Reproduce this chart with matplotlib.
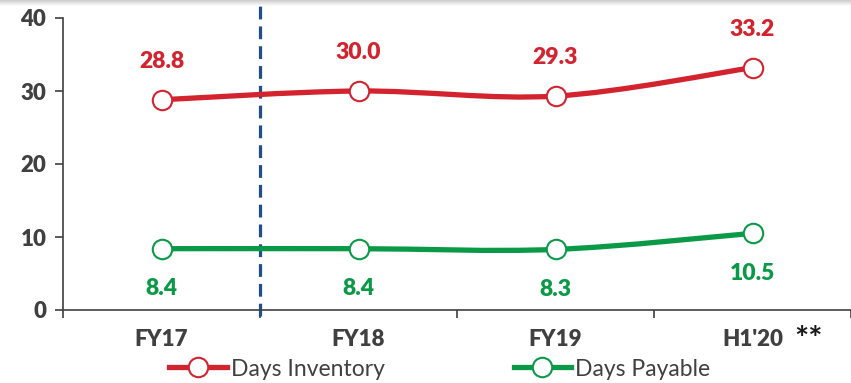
import numpy as np
import matplotlib.pyplot as plt
from matplotlib.path import Path
from matplotlib.patches import PathPatch
from matplotlib.lines import Line2D

plt.rcParams['font.family'] = ['Lato', 'DejaVu Sans']

periods = ['FY17', 'FY18', 'FY19', "H1'20"]
days_inventory = [28.8, 30.0, 29.3, 33.2]
days_payable = [8.4, 8.4, 8.3, 10.5]

RED = '#D2232E'
GREEN = '#0A9A47'
GREY = '#404040'


def smooth_path(xs, ys, tension=1 / 6.0):
    # Catmull-Rom style bezier through the points, like Excel's smoothed line
    pts = np.column_stack([xs, ys]).astype(float)
    verts = [pts[0]]
    codes = [Path.MOVETO]
    n = len(pts)
    for i in range(n - 1):
        p0 = pts[i - 1] if i > 0 else pts[i]
        p1 = pts[i]
        p2 = pts[i + 1]
        p3 = pts[i + 2] if i + 2 < n else pts[i + 1]
        c1 = p1 + (p2 - p0) * tension
        c2 = p2 - (p3 - p1) * tension
        verts += [c1, c2, p2]
        codes += [Path.CURVE4] * 3
    return Path(verts, codes)


fig = plt.figure(figsize=(8.51, 3.83), dpi=100)

# soft grey shadow along the top edge
shade = fig.add_axes([0, 1 - 6 / 383, 1, 6 / 383])
shade.imshow(np.linspace(0.80, 1.0, 20)[:, None], aspect='auto', cmap='gray', vmin=0, vmax=1)
shade.axis('off')

ax = fig.add_axes([63 / 851, 73 / 383, 1 - 63 / 851, (310 - 18) / 383])

x = np.arange(len(periods))
for vals, color in [(days_inventory, RED), (days_payable, GREEN)]:
    ax.add_patch(PathPatch(smooth_path(x, vals), facecolor='none', edgecolor=color,
                           lw=3.8, capstyle='round', zorder=3))
    ax.plot(x, vals, ls='none', marker='o', ms=14, mfc='white', mec=color, mew=1.5, zorder=4)

for xi, v in zip(x, days_inventory):
    ax.annotate(f'{v:.1f}', (xi, v), xytext=(0, 20), textcoords='offset points',
                ha='center', va='bottom', color=RED, fontsize=16.5, fontweight='heavy')
for xi, v in zip(x, days_payable):
    ax.annotate(f'{v:.1f}', (xi, v), xytext=(0, -21), textcoords='offset points',
                ha='center', va='top', color=GREEN, fontsize=16.5, fontweight='heavy')

# divider between FY17 and the rest
ax.axvline(0.5, ymin=-0.02, ymax=1.045, color='#1F4E8C', ls=(0, (4, 2.2)), lw=2.3, clip_on=False, zorder=2)

ax.set_xlim(-0.5, 3.475)
ax.set_ylim(0, 40)
ax.set_yticks([0, 10, 20, 30, 40])
ax.set_xticks(np.arange(-0.5, 4, 1.0))
ax.set_xticklabels([])
ax.set_xticks(x, minor=True)
ax.set_xticklabels(periods, minor=True)
ax.tick_params(axis='x', which='minor', length=0, pad=14, labelsize=16, labelcolor=GREY)
ax.tick_params(axis='x', which='major', length=6, width=1.2, color=GREY, direction='out')
ax.tick_params(axis='y', length=6, width=1.2, color=GREY, labelsize=16, labelcolor=GREY, pad=6)
for lbl in ax.get_xticklabels(minor=True) + ax.get_yticklabels():
    lbl.set_fontweight('heavy')

for s in ['top', 'right']:
    ax.spines[s].set_visible(False)
for s in ['left', 'bottom']:
    ax.spines[s].set_color(GREY)
    ax.spines[s].set_linewidth(1.2)

fig.text(809 / 851, 1 - 341 / 383, '**', ha='center', va='center', fontsize=24,
         fontweight='bold', color='#1a1a1a')

handles = [Line2D([], [], color=RED, lw=3.8, marker='o', ms=14, mfc='white', mec=RED, mew=1.5),
           Line2D([], [], color=GREEN, lw=3.8, marker='o', ms=14, mfc='white', mec=GREEN, mew=1.5)]
fig.legend(handles, ['Days Inventory', 'Days Payable'], loc='center', ncol=2,
           bbox_to_anchor=(440 / 851, 1 - 369 / 383), frameon=False, fontsize=16.5,
           handlelength=2.5, handletextpad=0.2, columnspacing=5.6, labelcolor=GREY,
           borderpad=0, borderaxespad=0)

fig.savefig('out.png', dpi=100)
